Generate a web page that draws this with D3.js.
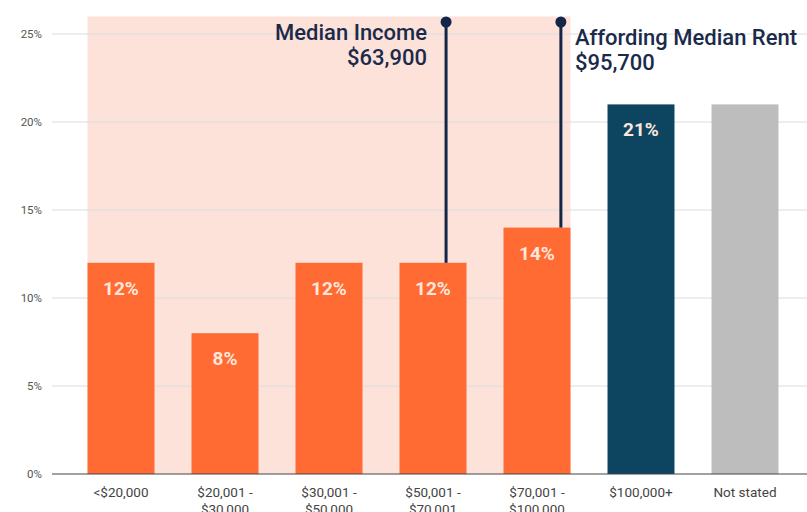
<!DOCTYPE html>
<html>
<head>
<meta charset="utf-8">
<script src="https://cdn.jsdelivr.net/npm/d3@7"></script>
<style>
  body { margin: 0; background: #fff; }
  svg { font-family: Roboto, "Noto Sans", sans-serif; }
</style>
</head>
<body>
<svg width="807" height="512"></svg>
<script>
const svg = d3.select("svg");

const width = 807;
const height = 512;

// data
const categories = ["<$20,000", "$20,001 -\n$30,000", "$30,001 -\n$50,000", "$50,001 -\n$70,001", "$70,001 -\n$100,000", "$100,000+", "Not stated"];
const shares = [12, 8, 12, 12, 14, 21, 21];
const barColors = ["#ff6b33", "#ff6b33", "#ff6b33", "#ff6b33", "#ff6b33", "#0d4561", "#bdbdbd"];
const showLabel = [true, true, true, true, true, true, false];
const yTicks = [0, 5, 10, 15, 20, 25];

// annotations: value, bracket category index, bracket low/high
const annotations = [
    { title: "Median Income", value: "$63,900", income: 63900, cat: 3, lo: 50000, hi: 70000, side: "left" },
    { title: "Affording Median Rent", value: "$95,700", income: 95700, cat: 4, lo: 70000, hi: 100000, side: "right" }
];
const shadeTop = 26;

const xScale = d3.scaleBand()
    .domain(categories)
    .range([69, 797])
    .paddingInner(0.356)
    .paddingOuter(0.178);

const yScale = d3.scaleLinear()
    .domain([0, 25])
    .range([474, 34]);

// shaded region behind the first five categories
svg.append("rect")
    .attr("x", xScale(categories[0]))
    .attr("y", yScale(shadeTop))
    .attr("width", xScale(categories[4]) + xScale.bandwidth() - xScale(categories[0]))
    .attr("height", yScale(0) - yScale(shadeTop))
    .attr("fill", "#fde2d9");

// gridlines
svg.append("g")
    .selectAll("line")
    .data(yTicks.slice(1))
    .enter()
    .append("line")
    .attr("x1", 52)
    .attr("x2", width)
    .attr("y1", d => yScale(d))
    .attr("y2", d => yScale(d))
    .attr("stroke", "#dcdcdc")
    .attr("stroke-width", 1);

// y axis
const yAxis = svg.append("g")
    .attr("transform", "translate(44,0)")
    .call(d3.axisLeft(yScale).tickValues(yTicks).tickFormat(d => d + "%").tickSize(0).tickPadding(2));
yAxis.select(".domain").remove();
yAxis.selectAll("text")
    .style("font-size", "11.5px")
    .style("font-family", "Roboto, sans-serif")
    .attr("fill", "#555");

// bars
svg.selectAll(".bar")
    .data(shares)
    .enter()
    .append("rect")
    .attr("class", "bar")
    .attr("x", (d, i) => xScale(categories[i]))
    .attr("y", d => yScale(d))
    .attr("width", xScale.bandwidth())
    .attr("height", d => yScale(0) - yScale(d))
    .attr("fill", (d, i) => barColors[i]);

// value labels
shares.forEach(function(d, i) {
    if (!showLabel[i]) return;
    svg.append("text")
        .attr("class", "label")
        .attr("x", xScale(categories[i]) + xScale.bandwidth() / 2)
        .attr("y", yScale(d) + 32)
        .attr("text-anchor", "middle")
        .attr("fill", "#fde6dc")
        .style("font-size", "19px")
        .style("font-weight", "bold")
        .text(d + "%");
});

// baseline
svg.append("line")
    .attr("x1", 52)
    .attr("x2", width)
    .attr("y1", yScale(0))
    .attr("y2", yScale(0))
    .attr("stroke", "#444")
    .attr("stroke-width", 1);

// x axis labels
const xLabels = svg.append("g");
categories.forEach(function(c) {
    const t = xLabels.append("text")
        .attr("x", xScale(c) + xScale.bandwidth() / 2)
        .attr("y", 497)
        .attr("text-anchor", "middle")
        .attr("fill", "#444")
        .style("font-size", "13.5px");
    c.split("\n").forEach(function(line, j) {
        t.append("tspan")
            .attr("x", xScale(c) + xScale.bandwidth() / 2)
            .attr("dy", j === 0 ? 0 : 17)
            .text(line);
    });
});

// annotation lines
annotations.forEach(function(a) {
    const cat = categories[a.cat];
    const lx = xScale(cat) + (a.income - a.lo) / (a.hi - a.lo) * xScale.bandwidth();
    const topY = 22;
    svg.append("line")
        .attr("x1", lx)
        .attr("x2", lx)
        .attr("y1", topY)
        .attr("y2", yScale(shares[a.cat]))
        .attr("stroke", "#14254a")
        .attr("stroke-width", 3);
    svg.append("circle")
        .attr("cx", lx)
        .attr("cy", topY)
        .attr("r", 5.5)
        .attr("fill", "#14254a");

    const tx = a.side === "left" ? lx - 19 : lx + 14;
    const anchor = a.side === "left" ? "end" : "start";
    const by = a.side === "left" ? 40 : 45;
    svg.append("text")
        .attr("x", tx)
        .attr("y", by)
        .attr("text-anchor", anchor)
        .attr("fill", "#1b2a4a")
        .style("font-size", "22px")
        .style("font-weight", "500")
        .text(a.title);
    svg.append("text")
        .attr("x", tx)
        .attr("y", by + 25)
        .attr("text-anchor", anchor)
        .attr("fill", "#1b2a4a")
        .style("font-size", "22px")
        .style("font-weight", "500")
        .text(a.value);
});
</script>
</body>
</html>
